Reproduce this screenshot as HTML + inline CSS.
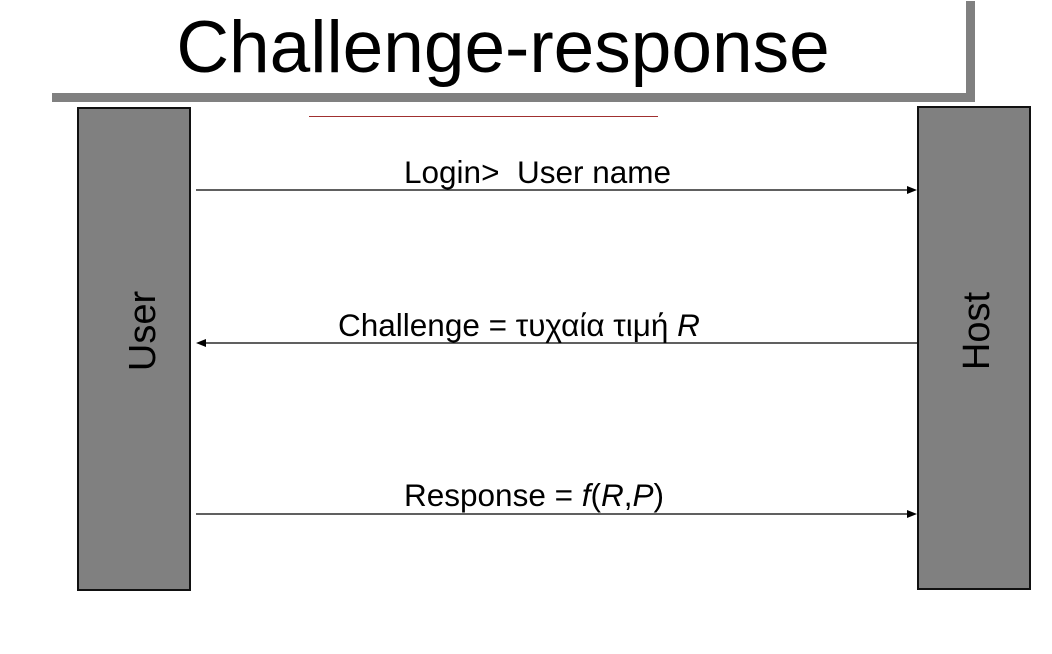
<!DOCTYPE html>
<html><head><meta charset="utf-8"><style>
body{margin:0;width:1052px;height:654px;background:#fff;position:relative;overflow:hidden;font-family:"Liberation Sans","DejaVu Sans",sans-serif;}
.a{position:absolute}
.box{position:absolute;background:#808080;border:2px solid #111;box-sizing:border-box}
.lab{position:absolute;font-size:31.5px;white-space:nowrap;color:#000;line-height:1}
.rot{position:absolute;font-size:38px;transform:translate(-50%,-50%) rotate(-90deg);white-space:nowrap;line-height:1}
</style></head><body>
<div class="a" style="left:966px;top:1px;width:9px;height:101px;background:#808080"></div>
<div class="a" style="left:52px;top:93px;width:923px;height:9px;background:#808080"></div>
<div class="a" style="left:0;top:6px;width:1006px;text-align:center;font-size:73px;line-height:84px">Challenge-response</div>
<div class="a" style="left:309px;top:116px;width:349px;height:1px;background:#a03030"></div>
<div class="box" style="left:77px;top:107px;width:114px;height:484px"></div>
<div class="box" style="left:917px;top:106px;width:114px;height:484px"></div>
<div class="rot" style="left:143px;top:331px">User</div>
<div class="rot" style="left:977px;top:331px">Host</div>
<svg class="a" style="left:0;top:0" width="1052" height="654">
<g stroke="#000" stroke-width="1.3" fill="#000">
<line x1="196" y1="190" x2="910" y2="190"/><polygon points="917,190 907,186 907,194" stroke="none"/>
<line x1="203" y1="343" x2="917" y2="343"/><polygon points="196,343 206,339 206,347" stroke="none"/>
<line x1="196" y1="514" x2="910" y2="514"/><polygon points="917,514 907,510 907,518" stroke="none"/>
</g></svg>
<div class="lab" style="left:404px;top:157px">Login&gt;&nbsp; User name</div>
<div class="lab" style="left:338px;top:310px">Challenge = τυχαία τιμή <i>R</i></div>
<div class="lab" style="left:404px;top:480px">Response = <i>f</i>(<i>R</i>,<i>P</i>)</div>
</body></html>
